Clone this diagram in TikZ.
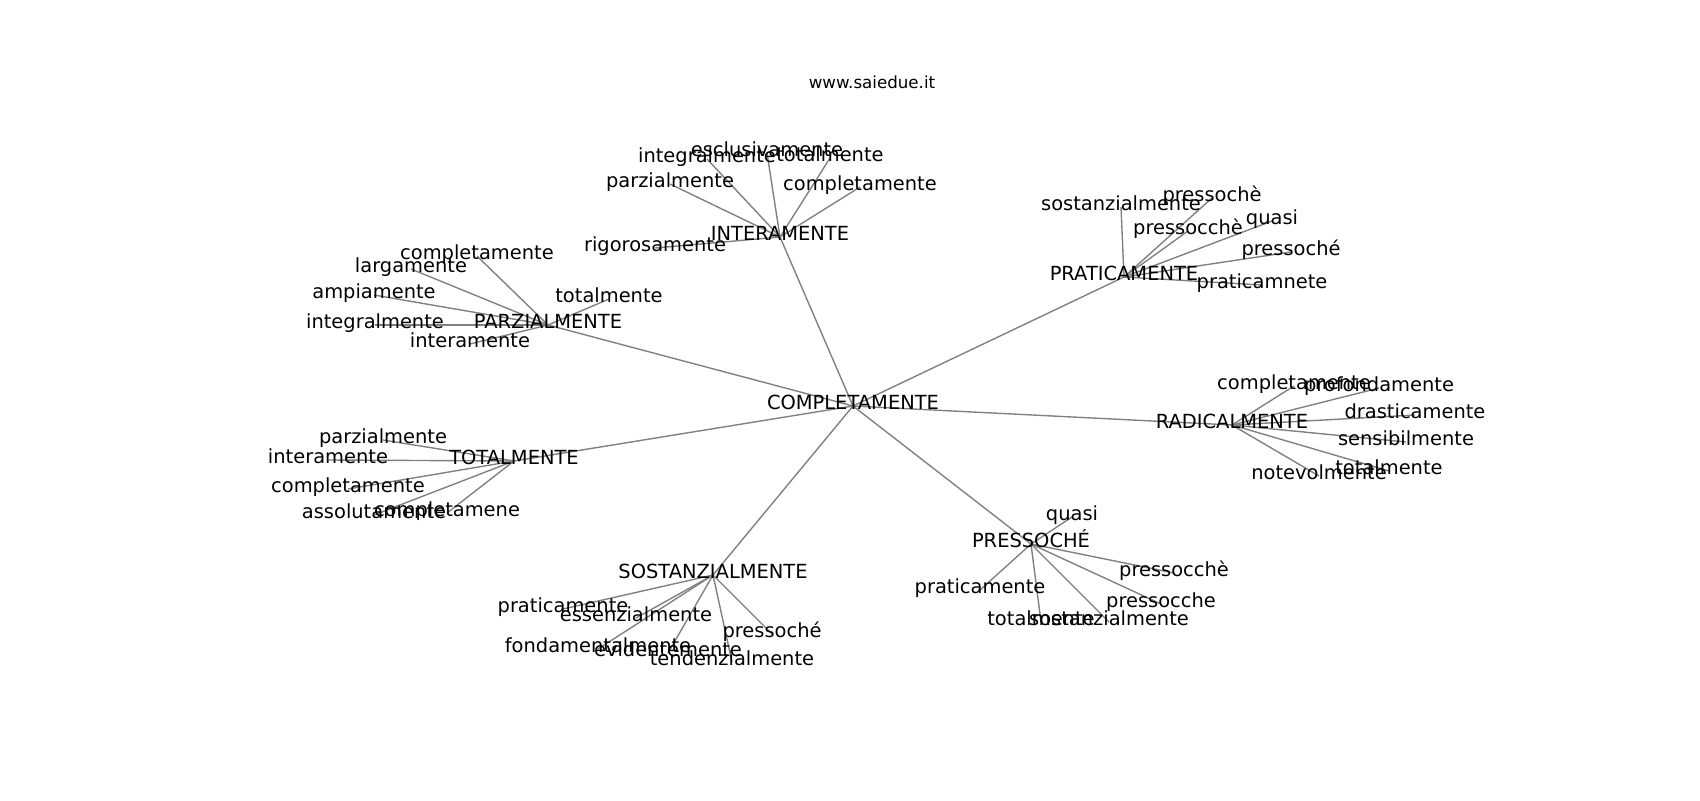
\documentclass[tikz,border=0pt]{standalone}
\usepackage{fontspec}
\setmainfont{DejaVu Sans}
\usetikzlibrary{backgrounds}

\begin{document}
\begin{tikzpicture}[
    x=0.72pt, y=-0.72pt,
    word/.style={inner sep=0pt, text height=0.76em, text depth=0.24em, font={\fontsize{14pt}{16pt}\selectfont}},
    link/.style={draw={rgb,255:red,128;green,128;blue,128}, line width=1pt}
]
\useasboundingbox (0,0) rectangle (1700,800);

% Title
\node[inner sep=0pt, font={\fontsize{12pt}{14pt}\selectfont}] (title) at (872,82) {www.saiedue.it};

% Nodes
\node[word] (completamente) at (853,406) {COMPLETAMENTE};
\node[word] (interamente) at (780,237) {INTERAMENTE};
\node[word] (praticamente) at (1124,277) {PRATICAMENTE};
\node[word] (parzialmente) at (548,325) {PARZIALMENTE};
\node[word] (totalmente) at (514,461) {TOTALMENTE};
\node[word] (sostanzialmente) at (713,575) {SOSTANZIALMENTE};
\node[word] (pressoche) at (1031,544) {PRESSOCHÉ};
\node[word] (radicalmente) at (1232,425) {RADICALMENTE};

\node[word] (in-esclusivamente) at (767,153) {esclusivamente};
\node[word] (in-integralmente) at (707,159) {integralmente};
\node[word] (in-totalmente) at (830,158) {totalmente};
\node[word] (in-parzialmente) at (670,184) {parzialmente};
\node[word] (in-completamente) at (860,187) {completamente};
\node[word] (in-rigorosamente) at (655,248) {rigorosamente};

\node[word] (pr-sostanzialmente) at (1121,207) {sostanzialmente};
\node[word] (pr-pressoche) at (1212,198) {pressochè};
\node[word] (pr-pressocche) at (1188,231) {pressocchè};
\node[word] (pr-quasi) at (1272,221) {quasi};
\node[word] (pr-pressochee) at (1291,252) {pressoché};
\node[word] (pr-praticamnete) at (1262,285) {praticamnete};

\node[word] (pa-completamente) at (477,256) {completamente};
\node[word] (pa-largamente) at (411,269) {largamente};
\node[word] (pa-ampiamente) at (374,295) {ampiamente};
\node[word] (pa-totalmente) at (609,299) {totalmente};
\node[word] (pa-integralmente) at (375,325) {integralmente};
\node[word] (pa-interamente) at (470,344) {interamente};

\node[word] (to-parzialmente) at (383,440) {parzialmente};
\node[word] (to-interamente) at (328,460) {interamente};
\node[word] (to-completamente) at (348,489) {completamente};
\node[word] (to-assolutamente) at (374,515) {assolutamente};
\node[word] (to-completamene) at (447,513) {completamene};

\node[word] (so-praticamente) at (563,609) {praticamente};
\node[word] (so-essenzialmente) at (636,618) {essenzialmente};
\node[word] (so-pressoche) at (772,634) {pressoché};
\node[word] (so-fondamentalmente) at (598,649) {fondamentalmente};
\node[word] (so-evidentemente) at (668,653) {evidentemente};
\node[word] (so-tendenzialmente) at (732,662) {tendenzialmente};

\node[word] (ps-quasi) at (1072,517) {quasi};
\node[word] (ps-pressocche) at (1174,573) {pressocchè};
\node[word] (ps-praticamente) at (980,590) {praticamente};
\node[word] (ps-pressoccheb) at (1161,604) {pressocche};
\node[word] (ps-totalmente) at (1041,622) {totalmente};
\node[word] (ps-sostanzialmente) at (1109,622) {sostanzialmente};

\node[word] (ra-completamente) at (1294,386) {completamente};
\node[word] (ra-profondamente) at (1379,388) {profondamente};
\node[word] (ra-drasticamente) at (1415,415) {drasticamente};
\node[word] (ra-sensibilmente) at (1406,442) {sensibilmente};
\node[word] (ra-notevolmente) at (1319,476) {notevolmente};
\node[word] (ra-totalmente) at (1389,471) {totalmente};

% Lines
\begin{scope}[on background layer]
\foreach \hub in {interamente,praticamente,parzialmente,totalmente,sostanzialmente,pressoche,radicalmente}
  \draw[link] (completamente.center) -- (\hub.center);
\foreach \leaf in {esclusivamente,integralmente,totalmente,parzialmente,completamente,rigorosamente}
  \draw[link] (interamente.center) -- (in-\leaf.center);
\foreach \leaf in {sostanzialmente,pressoche,pressocche,quasi,pressochee,praticamnete}
  \draw[link] (praticamente.center) -- (pr-\leaf.center);
\foreach \leaf in {completamente,largamente,ampiamente,totalmente,integralmente,interamente}
  \draw[link] (parzialmente.center) -- (pa-\leaf.center);
\foreach \leaf in {parzialmente,interamente,completamente,assolutamente,completamene}
  \draw[link] (totalmente.center) -- (to-\leaf.center);
\foreach \leaf in {praticamente,essenzialmente,pressoche,fondamentalmente,evidentemente,tendenzialmente}
  \draw[link] (sostanzialmente.center) -- (so-\leaf.center);
\foreach \leaf in {quasi,pressocche,praticamente,pressoccheb,totalmente,sostanzialmente}
  \draw[link] (pressoche.center) -- (ps-\leaf.center);
\foreach \leaf in {completamente,profondamente,drasticamente,sensibilmente,notevolmente,totalmente}
  \draw[link] (radicalmente.center) -- (ra-\leaf.center);
\end{scope}

\end{tikzpicture}
\end{document}
